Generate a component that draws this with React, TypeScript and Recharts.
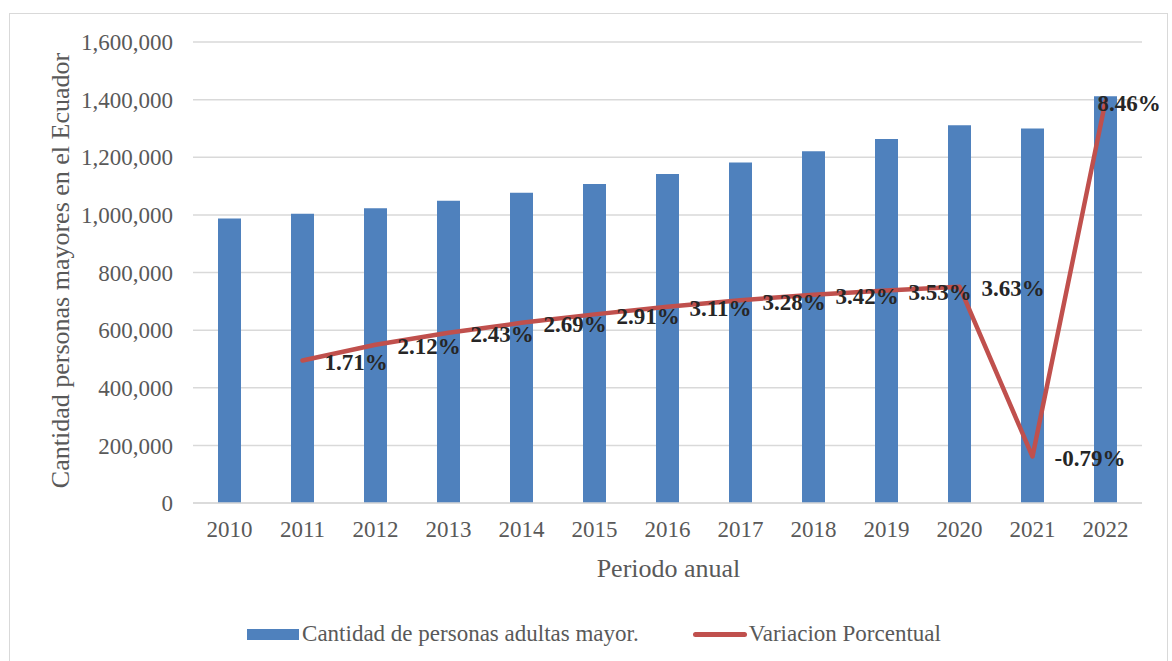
import {
  Bar,
  CartesianGrid,
  ComposedChart,
  LabelList,
  Legend,
  Line,
  XAxis,
  YAxis,
} from 'recharts';

const FONT = "'Liberation Serif', 'Times New Roman', serif";
const TEXT = '#595959';
const BAR_COLOR = '#4F81BD';
const LINE_COLOR = '#C0504D';

const YEARS = ['2010', '2011', '2012', '2013', '2014', '2015', '2016', '2017', '2018', '2019', '2020', '2021', '2022'];
const PERSONAS = [987000, 1004000, 1023000, 1049000, 1077000, 1107000, 1142000, 1182000, 1221000, 1263000, 1311000, 1300000, 1412000];
// percent change vs previous year (2010 has none)
const VARIACION: (number | null)[] = [null, 1.71, 2.12, 2.43, 2.69, 2.91, 3.11, 3.28, 3.42, 3.53, 3.63, -0.79, 8.46];
const Y_TICKS = [0, 200000, 400000, 600000, 800000, 1000000, 1200000, 1400000, 1600000];

const BAR_NAME = 'Cantidad de personas adultas mayor.';
const LINE_NAME = 'Variacion Porcentual';

const data = YEARS.map((year, i) => ({
  year,
  personas: PERSONAS[i],
  variacion: VARIACION[i],
}));

function PctLabel(props: any) {
  const { x, y, value, index } = props;
  if (value === null || value === undefined) return null;
  // last point sits at the chart edge, so its label is pulled back left
  const lx = index === YEARS.length - 1 ? x - 8 : x + 22;
  return (
    <text
      x={lx}
      y={y + 2}
      dominantBaseline="central"
      fontFamily={FONT}
      fontSize={23}
      fontWeight="bold"
      fill="#262626"
    >
      {`${Number(value).toFixed(2)}%`}
    </text>
  );
}

function YTitle(props: any) {
  const { viewBox } = props;
  const cx = viewBox.x + 50;
  const cy = viewBox.y + viewBox.height / 2 - 2;
  return (
    <text
      x={cx}
      y={cy}
      transform={`rotate(-90, ${cx}, ${cy})`}
      textAnchor="middle"
      dominantBaseline="central"
      fontFamily={FONT}
      fontSize={26}
      fill={TEXT}
    >
      Cantidad personas mayores en el Ecuador
    </text>
  );
}

function XTitle(props: any) {
  const { viewBox } = props;
  return (
    <text
      x={viewBox.x + viewBox.width / 2 + 1}
      y={viewBox.y + 65}
      textAnchor="middle"
      dominantBaseline="central"
      fontFamily={FONT}
      fontSize={26}
      fill={TEXT}
    >
      Periodo anual
    </text>
  );
}

function LegendContent() {
  return (
    <div
      style={{
        height: 30,
        width: 1157,
        display: 'flex',
        alignItems: 'center',
        justifyContent: 'center',
        paddingLeft: 11,
        boxSizing: 'border-box',
        fontFamily: FONT,
        fontSize: 23,
        color: TEXT,
        whiteSpace: 'nowrap',
      }}
    >
      <span style={{ display: 'inline-block', width: 52, height: 11, background: BAR_COLOR, marginRight: 3 }} />
      <span style={{ marginRight: 54 }}>{BAR_NAME}</span>
      <span
        style={{
          display: 'inline-block',
          width: 54,
          height: 5,
          borderRadius: 3,
          background: LINE_COLOR,
          marginRight: 2,
        }}
      />
      <span>{LINE_NAME}</span>
    </div>
  );
}

export default function App() {
  return (
    <div
      style={{
        position: 'absolute',
        left: 9,
        top: 13,
        width: 1159,
        height: 648,
        border: '1px solid #D9D9D9',
        borderBottom: 'none',
        boxSizing: 'border-box',
        background: '#fff',
      }}
    >
      <ComposedChart
        width={1157}
        height={647}
        data={data}
        margin={{ top: 28, right: 25, bottom: 12, left: 0 }}
      >
        <CartesianGrid yAxisId="left" vertical={false} stroke="#D9D9D9" strokeWidth={1.5} />
        <XAxis
          dataKey="year"
          height={116}
          tickLine={false}
          tickSize={0}
          tickMargin={18}
          axisLine={{ stroke: '#D9D9D9', strokeWidth: 1.5 }}
          tick={{ fontSize: 23, fill: TEXT, fontFamily: FONT }}
          label={<XTitle />}
        />
        <YAxis
          yAxisId="left"
          width={183}
          domain={[0, 1600000]}
          ticks={Y_TICKS}
          axisLine={false}
          tickLine={false}
          tickSize={0}
          tickMargin={20}
          tick={{ fontSize: 23, fill: TEXT, fontFamily: FONT }}
          tickFormatter={(v: number) => v.toLocaleString('en-US')}
          label={<YTitle />}
        />
        <YAxis yAxisId="right" orientation="right" hide domain={[-2, 10]} />
        <Legend verticalAlign="bottom" wrapperStyle={{ left: 0, width: 1157 }} content={<LegendContent />} />
        <Bar
          yAxisId="left"
          dataKey="personas"
          name={BAR_NAME}
          fill={BAR_COLOR}
          barSize={23}
          isAnimationActive={false}
        />
        <Line
          yAxisId="right"
          dataKey="variacion"
          name={LINE_NAME}
          type="linear"
          stroke={LINE_COLOR}
          strokeWidth={4.5}
          strokeLinejoin="round"
          strokeLinecap="round"
          dot={false}
          activeDot={false}
          isAnimationActive={false}
        >
          <LabelList dataKey="variacion" content={<PctLabel />} />
        </Line>
      </ComposedChart>
    </div>
  );
}
